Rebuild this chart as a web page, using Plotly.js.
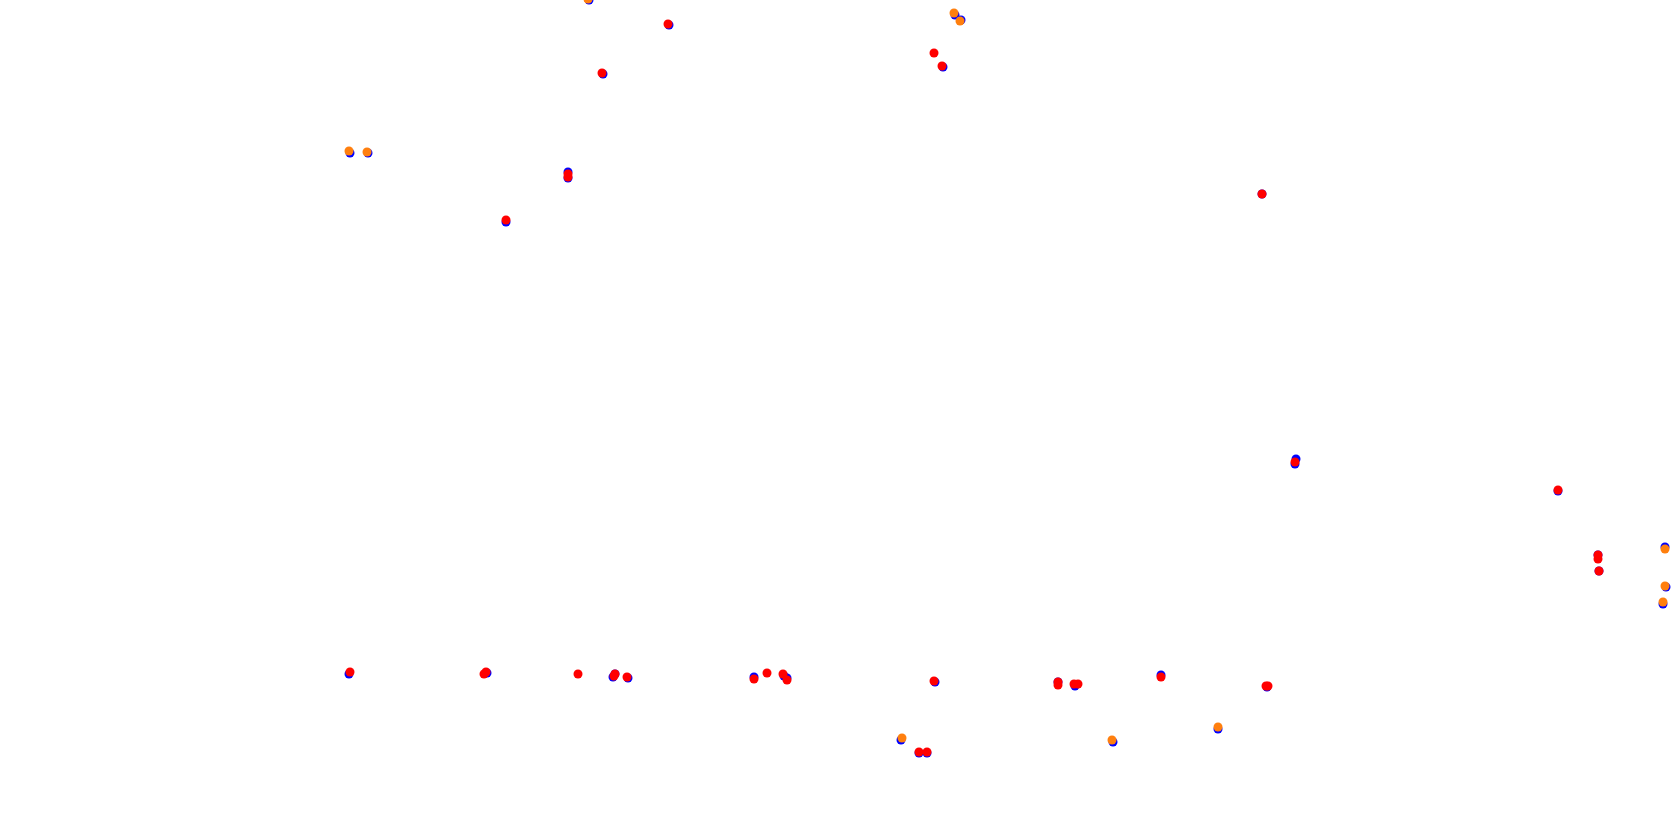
<!DOCTYPE html>
<html>
<head>
<meta charset="utf-8">
<script src="https://cdn.plot.ly/plotly-3.0.1.min.js"></script>
<style>html,body{margin:0;padding:0;background:#fff;}#chart{width:1680px;height:827px;}</style>
</head>
<body>
<div id="chart"></div>
<script>
// Track-map positions (arbitrary track units, y grows downward)
const blueX = [589, 669, 603, 350, 368, 568, 568, 506, 955, 961, 943, 1262,
  349, 487, 615, 613, 628, 754, 784, 787, 935, 901, 919, 927, 1058, 1075, 1161, 1267,
  1113, 1218, 1296, 1295, 1558, 1598, 1599, 1665, 1666, 1663];
const blueY = [0, 25, 74, 153, 153, 172, 178, 222, 15, 20, 67, 194,
  674, 673, 674, 677, 678, 677, 676, 678, 682, 740, 753, 753, 682, 686, 675, 687,
  742, 729, 459, 464, 491, 555, 571, 547, 587, 604];

const orangeX = [588, 349, 367, 954, 960, 902, 1112, 1218, 1665, 1665, 1663];
const orangeY = [-1, 151, 152, 13, 21, 738, 740, 727, 549, 586, 602];

const redX = [668, 602, 568, 568, 506, 934, 942, 1262, 350, 484, 486, 578, 614, 615, 627,
  754, 767, 783, 787, 934, 919, 927, 1058, 1058, 1074, 1078, 1161, 1268, 1266, 1295, 1558,
  1598, 1598, 1599];
const redY = [24, 73, 174, 177, 220, 53, 66, 194, 672, 674, 672, 674, 676, 674, 677,
  679, 673, 674, 680, 681, 752, 752, 682, 685, 684, 684, 677, 686, 686, 462, 490,
  555, 559, 571];

const traces = [
  {x: blueX, y: blueY, mode: 'markers', type: 'scatter', name: 'A',
   marker: {color: 'blue', size: 9}},
  {x: orangeX, y: orangeY, mode: 'markers', type: 'scatter', name: 'B',
   marker: {color: '#ff7f0e', size: 9}},
  {x: redX, y: redY, mode: 'markers', type: 'scatter', name: 'C',
   marker: {color: 'red', size: 9}}
];

const layout = {
  width: 1680, height: 827,
  margin: {l: 0, r: 0, t: 0, b: 0, pad: 0},
  paper_bgcolor: '#fff', plot_bgcolor: '#fff',
  showlegend: false,
  xaxis: {range: [0, 1680], visible: false, fixedrange: true},
  yaxis: {range: [827, 0], visible: false, fixedrange: true}
};

Plotly.newPlot('chart', traces, layout, {displayModeBar: false, staticPlot: true});
</script>
</body>
</html>
